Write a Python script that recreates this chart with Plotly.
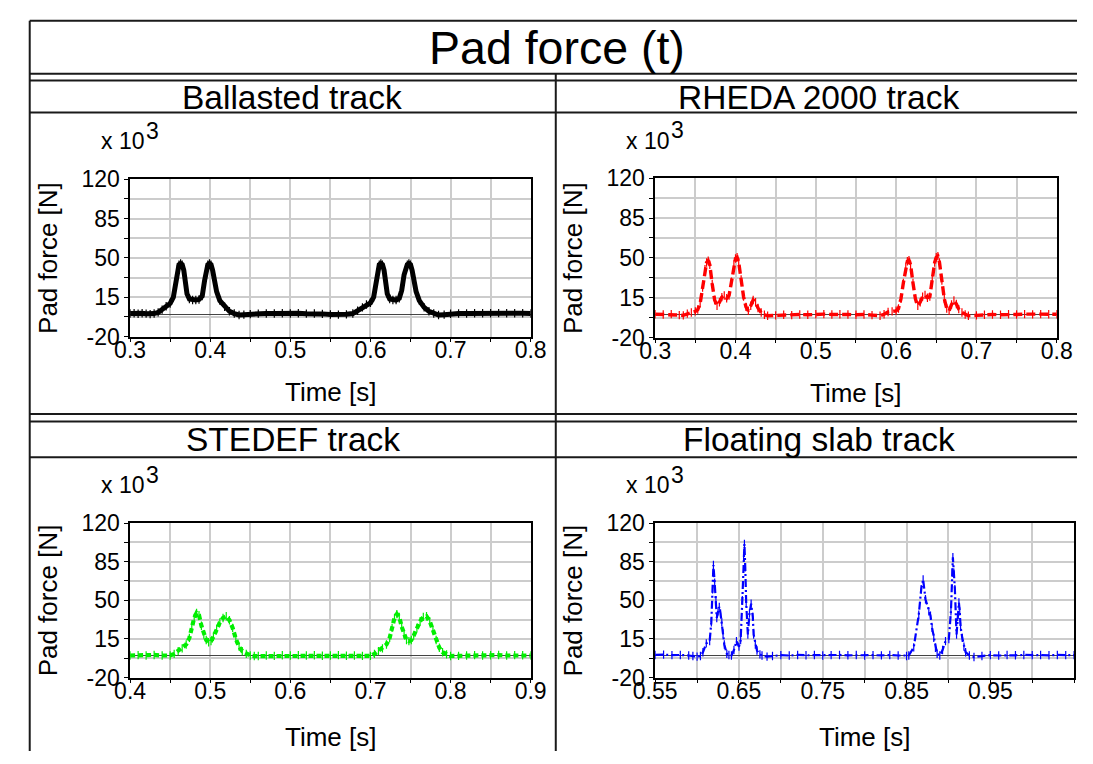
import plotly.graph_objects as go

# ---------------- data ----------------
ballast_t = [0.300, 0.305, 0.310, 0.315, 0.320, 0.325, 0.330, 0.335, 0.340, 0.345,
             0.350, 0.354, 0.357, 0.359, 0.361, 0.363, 0.365, 0.367, 0.369, 0.371,
             0.374, 0.378, 0.382, 0.386, 0.390, 0.393, 0.395, 0.397, 0.399, 0.401,
             0.403, 0.405, 0.408, 0.412, 0.418, 0.424, 0.430, 0.436, 0.442, 0.450,
             0.460, 0.470, 0.480, 0.490, 0.500, 0.510, 0.520, 0.530, 0.540, 0.550,
             0.560, 0.570, 0.578, 0.584, 0.590, 0.595, 0.600, 0.604, 0.607, 0.609,
             0.611, 0.613, 0.615, 0.617, 0.619, 0.621, 0.624, 0.628, 0.632, 0.636,
             0.639, 0.642, 0.644, 0.646, 0.648, 0.650, 0.652, 0.654, 0.657, 0.661,
             0.667, 0.673, 0.679, 0.685, 0.692, 0.700, 0.710, 0.720, 0.730, 0.740,
             0.750, 0.760, 0.770, 0.780, 0.790, 0.800]
ballast_f = [0.5, 0.8, 0.3, 0.7, 0.4, 0.0, 0.5, 1.5, 4.0, 7.0,
             9.5, 15.0, 30.0, 40.0, 44.0, 45.0, 44.0, 39.0, 28.0, 18.0,
             13.5, 12.5, 12.5, 13.0, 16.0, 30.0, 40.0, 44.0, 45.0, 44.0,
             39.0, 30.0, 20.0, 12.0, 6.5, 2.5, 0.5, -0.8, -0.5, 0.0,
             0.4, 0.6, 0.5, 0.8, 0.5, 0.7, 0.4, 0.6, 0.2, -0.3,
             -0.5, -0.2, 0.5, 3.0, 6.0, 8.5, 10.0, 15.0, 30.0, 40.0,
             44.0, 45.0, 44.0, 39.0, 28.0, 18.0, 13.5, 12.5, 12.5, 14.0,
             21.0, 35.0, 41.0, 44.0, 45.0, 44.0, 39.0, 30.0, 20.0, 12.0,
             6.0, 2.5, 0.5, -0.8, -0.5, 0.3, 0.5, 0.6, 0.8, 0.7,
             0.8, 0.9, 0.8, 0.7, 0.8, 0.6]

rheda_t = [0.300, 0.310, 0.320, 0.330, 0.335, 0.340, 0.345, 0.350, 0.353, 0.356,
           0.359, 0.362, 0.364, 0.366, 0.368, 0.371, 0.374, 0.377, 0.380, 0.383,
           0.386, 0.389, 0.392, 0.395, 0.398, 0.400, 0.402, 0.404, 0.407, 0.410,
           0.413, 0.416, 0.419, 0.422, 0.425, 0.428, 0.432, 0.436, 0.440, 0.450,
           0.460, 0.470, 0.480, 0.490, 0.500, 0.510, 0.520, 0.530, 0.540, 0.550,
           0.560, 0.570, 0.580, 0.585, 0.590, 0.595, 0.600, 0.603, 0.606, 0.609,
           0.612, 0.614, 0.616, 0.618, 0.621, 0.624, 0.627, 0.630, 0.633, 0.636,
           0.639, 0.642, 0.645, 0.648, 0.650, 0.652, 0.654, 0.657, 0.660, 0.663,
           0.666, 0.669, 0.672, 0.675, 0.678, 0.682, 0.686, 0.690, 0.700, 0.710,
           0.720, 0.730, 0.740, 0.750, 0.760, 0.770, 0.780, 0.790, 0.800]
rheda_f = [0.5, 0.3, 0.6, -0.3, -0.5, 1.0, 2.0, 3.0, 4.5, 10.0,
           24.0, 40.0, 46.0, 47.5, 44.0, 27.0, 13.0, 8.0, 11.0, 15.5,
           17.0, 14.5, 17.0, 29.0, 44.0, 49.5, 50.5, 46.0, 31.0, 16.0,
           7.0, 3.5, 8.0, 13.0, 11.0, 6.0, 2.0, 0.0, -0.8, -0.5,
           0.0, -0.3, 0.3, 0.0, 0.5, 0.6, 0.3, 0.5, 0.2, 0.0,
           0.3, -0.3, -0.8, 0.5, 2.5, 3.0, 3.5, 5.5, 14.0, 28.0,
           42.0, 47.0, 48.0, 44.0, 28.0, 14.0, 8.0, 11.0, 16.0, 17.5,
           15.0, 16.0, 31.0, 46.0, 50.5, 51.5, 46.0, 30.0, 14.0, 5.5,
           3.5, 9.0, 12.5, 9.5, 5.0, 2.0, 0.3, -0.8, -0.5, 0.0,
           0.3, 0.0, 0.5, 0.3, 0.6, 0.4, 0.6, 0.5, 0.5]

stedef_t = [0.400, 0.410, 0.420, 0.430, 0.440, 0.450, 0.455, 0.460, 0.465, 0.470,
            0.474, 0.477, 0.480, 0.483, 0.486, 0.489, 0.492, 0.495, 0.498, 0.501,
            0.504, 0.508, 0.512, 0.516, 0.520, 0.524, 0.528, 0.532, 0.536, 0.540,
            0.545, 0.550, 0.555, 0.560, 0.570, 0.580, 0.590, 0.600, 0.610, 0.620,
            0.630, 0.640, 0.650, 0.660, 0.670, 0.680, 0.690, 0.700, 0.705, 0.710,
            0.715, 0.720, 0.724, 0.727, 0.730, 0.733, 0.736, 0.739, 0.742, 0.745,
            0.748, 0.751, 0.754, 0.758, 0.762, 0.766, 0.770, 0.774, 0.778, 0.782,
            0.786, 0.790, 0.795, 0.800, 0.810, 0.820, 0.830, 0.840, 0.850, 0.860,
            0.870, 0.880, 0.890, 0.900]
stedef_f = [0.0, 0.3, 0.0, 0.5, 0.0, 0.0, 1.5, 4.0, 6.5, 10.0,
            16.0, 25.0, 34.0, 38.5, 36.5, 27.0, 19.0, 14.0, 12.0, 13.0,
            17.0, 24.0, 30.0, 34.0, 35.5, 32.0, 25.0, 15.0, 8.0, 4.0,
            1.5, 0.0, -0.5, -0.5, 0.0, -0.3, 0.2, 0.0, 0.3, 0.0,
            0.2, -0.2, 0.0, 0.3, -0.2, 0.0, -0.3, -0.3, 1.5, 4.0,
            6.5, 10.0, 16.0, 25.0, 34.0, 37.5, 35.0, 26.0, 19.0, 14.0,
            13.0, 14.0, 18.0, 25.0, 31.0, 35.0, 35.5, 31.0, 23.0, 14.0,
            7.0, 3.0, 1.0, -0.5, -0.3, 0.0, 0.3, 0.0, 0.2, 0.4,
            0.0, 0.3, 0.2, 0.0]

floating_t = [0.550, 0.560, 0.570, 0.580, 0.590, 0.595, 0.600, 0.604, 0.607, 0.611,
              0.615, 0.617, 0.6185, 0.6195, 0.621, 0.6225, 0.6235, 0.625, 0.6265, 0.628,
              0.6295, 0.631, 0.6325, 0.6355, 0.638, 0.641, 0.644, 0.647, 0.650, 0.652,
              0.654, 0.6555, 0.6565, 0.6575, 0.6586, 0.6606, 0.6625, 0.6645, 0.6665, 0.6675,
              0.6695, 0.6715, 0.675, 0.6775, 0.6835, 0.690, 0.700, 0.710, 0.720, 0.730,
              0.740, 0.750, 0.760, 0.770, 0.780, 0.790, 0.800, 0.810, 0.820, 0.830,
              0.840, 0.850, 0.8527, 0.8586, 0.8646, 0.8675, 0.8698, 0.8726, 0.8766, 0.8786,
              0.8805, 0.8825, 0.8845, 0.8865, 0.8897, 0.893, 0.8965, 0.9005, 0.903, 0.9045,
              0.9053, 0.9065, 0.9077, 0.9097, 0.911, 0.9125, 0.9135, 0.9145, 0.9165, 0.9185,
              0.9205, 0.925, 0.9305, 0.940, 0.950, 0.960, 0.970, 0.980, 0.990, 1.000,
              1.010, 1.020, 1.030, 1.040, 1.050]
floating_f = [0.5, 0.8, 0.3, 0.5, 0.0, -0.5, -1.0, -0.5, 3.0, 11.0,
              13.0, 30.0, 60.0, 82.0, 66.0, 50.0, 34.0, 40.0, 44.0, 38.0,
              30.0, 20.0, 10.0, 1.5, 0.5, 0.0, 5.0, 13.0, 8.0, 14.0,
              50.0, 90.0, 101.0, 80.0, 48.0, 19.0, 38.0, 47.0, 35.0, 19.0,
              10.0, 4.5, 1.0, 0.0, -1.0, -0.5, 0.3, 0.0, 0.5, 0.2,
              0.4, 0.0, 0.3, 0.5, 0.2, 0.4, 0.0, 0.3, 0.1, 0.4,
              0.0, -0.5, 0.0, 7.4, 37.0, 60.0, 69.0, 51.0, 40.0, 36.0,
              25.0, 16.0, 7.0, 1.6, 0.0, 5.0, 13.0, 15.0, 40.0, 75.0,
              89.0, 75.0, 60.0, 19.0, 35.0, 48.0, 40.0, 26.0, 16.0, 8.0,
              3.0, 0.0, -1.4, -0.5, 0.3, 0.0, 0.4, 0.2, 0.5, 0.3,
              0.4, 0.2, 0.5, 0.3, 0.3]

panel_titles = ["Ballasted track", "RHEDA 2000 track", "STEDEF track", "Floating slab track"]
main_title = "Pad force (t)"
x_title = "Time [s]"
y_title = "Pad force [N]"
scale_text = "x 10"
scale_exp = "3"

y_range = [-20, 120]
y_tick_vals = [-20, -2.5, 15, 32.5, 50, 67.5, 85, 102.5, 120]
y_tick_text = ["-20", "", "15", "", "50", "", "85", "", "120"]

x_ranges = [[0.3, 0.8], [0.3, 0.8], [0.4, 0.9], [0.55, 1.05]]
x_tick_vals = [
    [0.30, 0.35, 0.40, 0.45, 0.50, 0.55, 0.60, 0.65, 0.70, 0.75, 0.80],
    [0.30, 0.35, 0.40, 0.45, 0.50, 0.55, 0.60, 0.65, 0.70, 0.75, 0.80],
    [0.40, 0.45, 0.50, 0.55, 0.60, 0.65, 0.70, 0.75, 0.80, 0.85, 0.90],
    [0.55, 0.60, 0.65, 0.70, 0.75, 0.80, 0.85, 0.90, 0.95, 1.00, 1.05],
]
x_tick_text = [
    ["0.3", "", "0.4", "", "0.5", "", "0.6", "", "0.7", "", "0.8"],
    ["0.3", "", "0.4", "", "0.5", "", "0.6", "", "0.7", "", "0.8"],
    ["0.4", "", "0.5", "", "0.6", "", "0.7", "", "0.8", "", "0.9"],
    ["0.55", "", "0.65", "", "0.75", "", "0.85", "", "0.95", "", ""],
]

series = [(ballast_t, ballast_f), (rheda_t, rheda_f), (stedef_t, stedef_f), (floating_t, floating_f)]
colors = ["#000000", "#ff0000", "#00ee00", "#0000ff"]
dashes = ["solid", "9px,4px", "5px,3px", "8px,3px,2px,3px"]
widths = [5.0, 3.4, 4.2, 2.2]

# ---------------- layout geometry (page pixels) ----------------
W, H = 1093, 764
FONT = "Liberation Sans, Arial, sans-serif"


def px(x):
    return x / W


def py(y):
    return 1 - y / H


# plot boxes: (left, right, top, bottom) in page pixels
boxes = [(112, 527, 172, 335), (656, 1072, 171, 336), (112, 527, 528, 688), (656, 1090, 528, 688)]

fig = go.Figure()
for i, ((t, f), box) in enumerate(zip(series, boxes)):
    ax = "" if i == 0 else str(i + 1)
    fig.add_trace(go.Scatter(
        x=t, y=f, mode="lines+markers",
        line=dict(color=colors[i], width=widths[i], dash=dashes[i]),
        marker=dict(symbol="line-ns", size=6, line=dict(color=colors[i], width=1.2)),
        xaxis="x" + ax, yaxis="y" + ax, showlegend=False, hoverinfo="skip"))
    l, r, tp, b = box
    common = dict(showline=True, mirror=True, linecolor="black", linewidth=1.5,
                  showgrid=True, gridcolor="#cccccc", gridwidth=1.5,
                  ticks="outside", ticklen=4, tickcolor="black", tickwidth=1,
                  tickfont=dict(family=FONT, size=23, color="black"),
                  tickmode="array", fixedrange=True)
    fig.layout["xaxis" + ax] = dict(
        domain=[px(l), px(r)], range=x_ranges[i], anchor="y" + ax,
        tickvals=x_tick_vals[i], ticktext=x_tick_text[i], zeroline=False,
        ticklabelstandoff=-12, **common)
    fig.layout["yaxis" + ax] = dict(
        domain=[py(b), py(tp)], range=y_range, anchor="x" + ax,
        tickvals=y_tick_vals, ticktext=y_tick_text,
        zeroline=True, zerolinecolor="#444444", zerolinewidth=1, **common)

annotations = []


def ann(text, x, y, size, xanchor="center", yanchor="middle", angle=0):
    annotations.append(dict(text=text, x=px(x), y=py(y), xref="paper", yref="paper",
                            xanchor=xanchor, yanchor=yanchor, showarrow=False,
                            textangle=angle, font=dict(family=FONT, size=size, color="black")))


ann(main_title, 554, 36, 46.5)
title_pos = [(280, 87), (825, 87), (281, 442), (826, 442)]
for i, (tx, ty) in enumerate(title_pos):
    ann(panel_titles[i], tx, ty, 33.5)

x_title_gap = [57, 57, 61, 61]
for i, box in enumerate(boxes):
    l, r, tp, b = box
    ann(x_title, (l + r) / 2, b + x_title_gap[i], 26)
    ann(y_title, l - 85, (tp + b) / 2, 26, angle=-90)
    ann(scale_text, l - 32, tp - 39, 23, xanchor="left")
    ann(scale_exp, l + 14, tp - 50, 23, xanchor="left")

shapes = []


def hline(y):
    shapes.append(dict(type="line", xref="paper", yref="paper", x0=px(8), x1=1, y0=py(y), y1=py(y),
                       line=dict(color="#1a1a1a", width=2)))


def vline(x, y0, y1):
    shapes.append(dict(type="line", xref="paper", yref="paper", x0=px(x), x1=px(x), y0=py(y0), y1=py(y1),
                       line=dict(color="#1a1a1a", width=2)))


for yy in [8, 63, 70, 103, 415, 423, 460]:
    hline(yy)
vline(8, 8, H)
vline(553, 63, H)

fig.update_layout(width=W, height=H, margin=dict(l=0, r=0, t=0, b=0),
                  paper_bgcolor="white", plot_bgcolor="white",
                  annotations=annotations, shapes=shapes, showlegend=False)

fig.write_html("out.html", config={"displayModeBar": False},
               post_script="document.body.style.margin='0';document.body.style.overflow='hidden';")
